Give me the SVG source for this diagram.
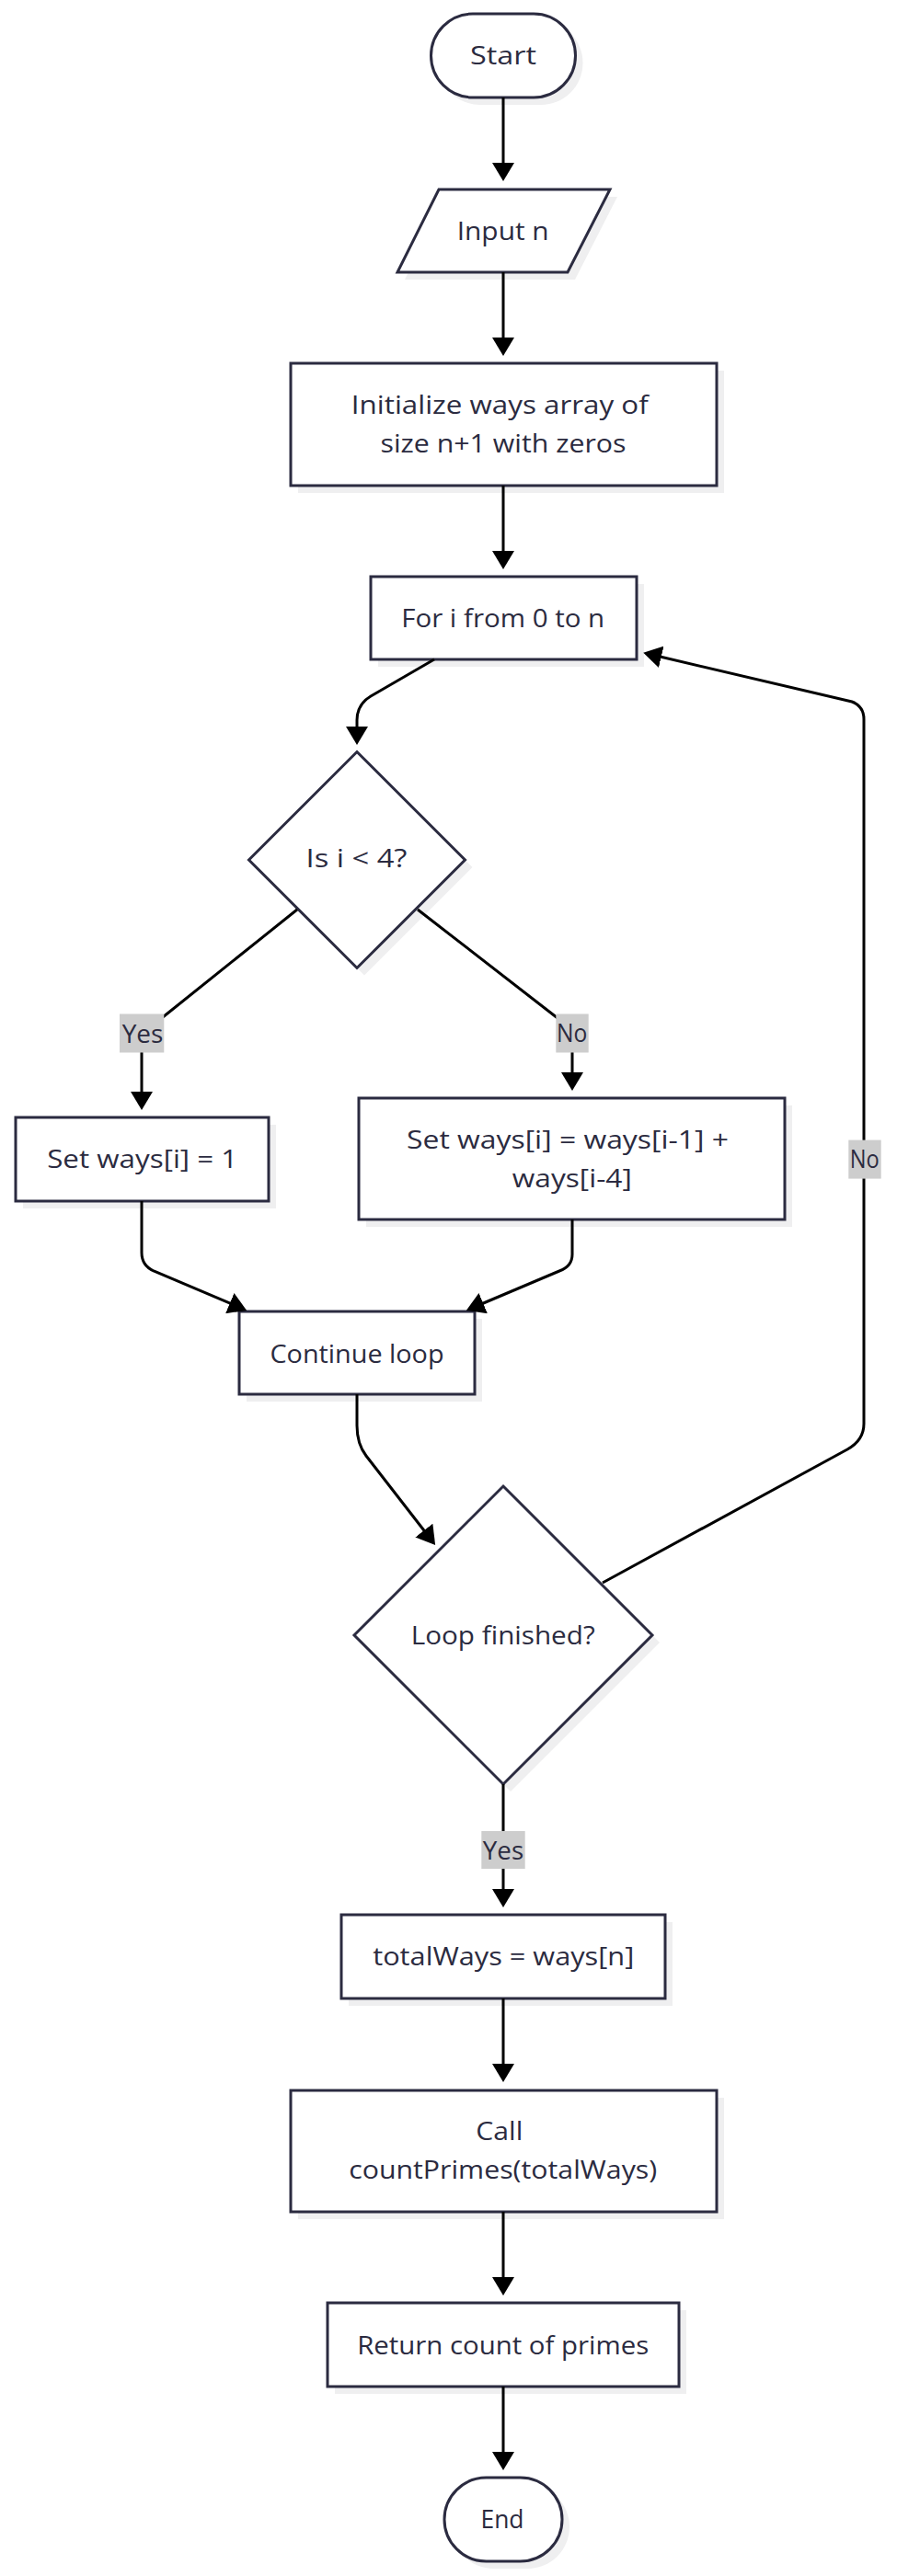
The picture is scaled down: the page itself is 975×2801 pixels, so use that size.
<svg xmlns="http://www.w3.org/2000/svg" width="975" height="2801" viewBox="0 0 975 2801">
<defs>
<marker id="arr" viewBox="0 0 20 24" refX="10" refY="12" markerWidth="20" markerHeight="24" markerUnits="userSpaceOnUse" orient="auto">
<path d="M0,0 L20,12 L0,24 z" fill="#000"/>
</marker>
</defs>
<style>
.shape{fill:#fff;stroke:#2b2b40;stroke-width:3}
.shadow{fill:#efeff0;stroke:none}
.lbl{font-family:"Open Sans","Noto Sans","Liberation Sans",sans-serif;font-size:28px;fill:#2b2b40;text-anchor:middle}
.edge{fill:none;stroke:#000;stroke-width:3;marker-end:url(#arr)}
.ebg{fill:#cdcdcd}
</style>
<rect width="975" height="2801" fill="#fff"/>
<g id="start">
<rect class="shadow" x="476.5" y="23" width="157" height="91" rx="45.5"/>
<rect class="shape" x="468.5" y="15" width="157" height="91" rx="45.5"/>
<text class="lbl" x="547" y="70" textLength="72" lengthAdjust="spacingAndGlyphs">Start</text>
</g>
<g id="input">
<polygon class="shadow" points="485,214 671,214 625,304 440,304"/>
<polygon class="shape" points="477,206 663,206 617,296 432,296"/>
<text class="lbl" x="546.7" y="261" textLength="100" lengthAdjust="spacingAndGlyphs">Input n</text>
</g>
<g id="init">
<rect class="shadow" x="324" y="403" width="463" height="133"/>
<rect class="shape" x="316" y="395" width="463" height="133"/>
<text class="lbl" x="543.3" y="450" textLength="323" lengthAdjust="spacingAndGlyphs">Initialize ways array of</text>
<text class="lbl" x="547" y="492" textLength="267" lengthAdjust="spacingAndGlyphs">size n+1 with zeros</text>
</g>
<g id="forloop">
<rect class="shadow" x="411" y="635" width="289" height="90"/>
<rect class="shape" x="403" y="627" width="289" height="90"/>
<text class="lbl" x="546.7" y="682" textLength="221" lengthAdjust="spacingAndGlyphs">For i from 0 to n</text>
</g>
<g id="check">
<polygon class="shadow" points="396,825.5 513.5,943 396,1060.5 278.5,943"/>
<polygon class="shape" points="388,817.5 505.5,935 388,1052.5 270.5,935"/>
<text class="lbl" x="387.5" y="943" textLength="110" lengthAdjust="spacingAndGlyphs">Is i &lt; 4?</text>
</g>
<g id="setone">
<rect class="shadow" x="25" y="1223" width="275" height="91"/>
<rect class="shape" x="17" y="1215" width="275" height="91"/>
<text class="lbl" x="154.7" y="1269.5" textLength="207" lengthAdjust="spacingAndGlyphs">Set ways[i] = 1</text>
</g>
<g id="setsum">
<rect class="shadow" x="398" y="1202" width="463" height="132"/>
<rect class="shape" x="390" y="1194" width="463" height="132"/>
<text class="lbl" x="617" y="1248.5" textLength="350" lengthAdjust="spacingAndGlyphs">Set ways[i] = ways[i-1] +</text>
<text class="lbl" x="621.8" y="1290.7" textLength="130" lengthAdjust="spacingAndGlyphs">ways[i-4]</text>
</g>
<g id="continue">
<rect class="shadow" x="268" y="1434" width="256" height="90"/>
<rect class="shape" x="260" y="1426" width="256" height="90"/>
<text class="lbl" x="388" y="1481.5" textLength="189" lengthAdjust="spacingAndGlyphs">Continue loop</text>
</g>
<g id="finished">
<polygon class="shadow" points="555,1624 717,1786 555,1948 393,1786"/>
<polygon class="shape" points="547,1616 709,1778 547,1940 385,1778"/>
<text class="lbl" x="546.7" y="1788" textLength="200" lengthAdjust="spacingAndGlyphs">Loop finished?</text>
</g>
<g id="total">
<rect class="shadow" x="379" y="2090" width="352" height="91"/>
<rect class="shape" x="371" y="2082" width="352" height="91"/>
<text class="lbl" x="547.2" y="2137" textLength="284" lengthAdjust="spacingAndGlyphs">totalWays = ways[n]</text>
</g>
<g id="call">
<rect class="shadow" x="324" y="2281" width="463" height="132"/>
<rect class="shape" x="316" y="2273" width="463" height="132"/>
<text class="lbl" x="542.8" y="2327" textLength="51" lengthAdjust="spacingAndGlyphs">Call</text>
<text class="lbl" x="546.7" y="2369" textLength="335" lengthAdjust="spacingAndGlyphs">countPrimes(totalWays)</text>
</g>
<g id="return">
<rect class="shadow" x="364" y="2512" width="382" height="91"/>
<rect class="shape" x="356" y="2504" width="382" height="91"/>
<text class="lbl" x="546.7" y="2559.5" textLength="317" lengthAdjust="spacingAndGlyphs">Return count of primes</text>
</g>
<g id="end">
<rect class="shadow" x="491" y="2702" width="128" height="91" rx="45.5"/>
<rect class="shape" x="483" y="2694" width="128" height="91" rx="45.5"/>
<text class="lbl" x="546" y="2749" textLength="47" lengthAdjust="spacingAndGlyphs">End</text>
</g>
<g id="connectors">
<path class="edge" d="M547,106 L547,187"/>
<path class="edge" d="M547,296 L547,377"/>
<path class="edge" d="M547,528 L547,609"/>
<path class="edge" d="M472,717 L403,757 Q388,766 388,783 L388,800"/>
<path class="edge" d="M323,989 L172,1110 Q154,1124 154,1140 L154,1197"/>
<path class="edge" d="M454,989 L606,1107 Q622,1120 622,1140 L622,1176"/>
<path class="edge" d="M154,1306 L154,1362 Q154,1376 167,1382 L259,1421"/>
<path class="edge" d="M622,1326 L622,1364 Q622,1377 608,1382 L516,1421"/>
<path class="edge" d="M388,1516 L388,1550 Q388,1570 398,1583 L467,1672"/>
<path class="edge" d="M655,1721 L921,1576 Q939,1566 939,1548 L939,782 Q939,768 926,763 L709,712"/>
<path class="edge" d="M547,1940 L547,2064"/>
<path class="edge" d="M547,2173 L547,2254"/>
<path class="edge" d="M547,2405 L547,2486"/>
<path class="edge" d="M547,2595 L547,2676"/>
<rect class="ebg" x="130" y="1102.5" width="48.3" height="42"/>
<text class="lbl" x="155" y="1133.5" textLength="44.7" lengthAdjust="spacingAndGlyphs">Yes</text>
<rect class="ebg" x="604.3" y="1102.5" width="35.4" height="42"/>
<text class="lbl" x="621.7" y="1133" textLength="33.3" lengthAdjust="spacingAndGlyphs">No</text>
<rect class="ebg" x="922.3" y="1239.6" width="35.4" height="42"/>
<text class="lbl" x="939.8" y="1269.5" textLength="32" lengthAdjust="spacingAndGlyphs">No</text>
<rect class="ebg" x="523.3" y="1991" width="47.4" height="41"/>
<text class="lbl" x="547" y="2021.5" textLength="44.3" lengthAdjust="spacingAndGlyphs">Yes</text>
</g>
</svg>
